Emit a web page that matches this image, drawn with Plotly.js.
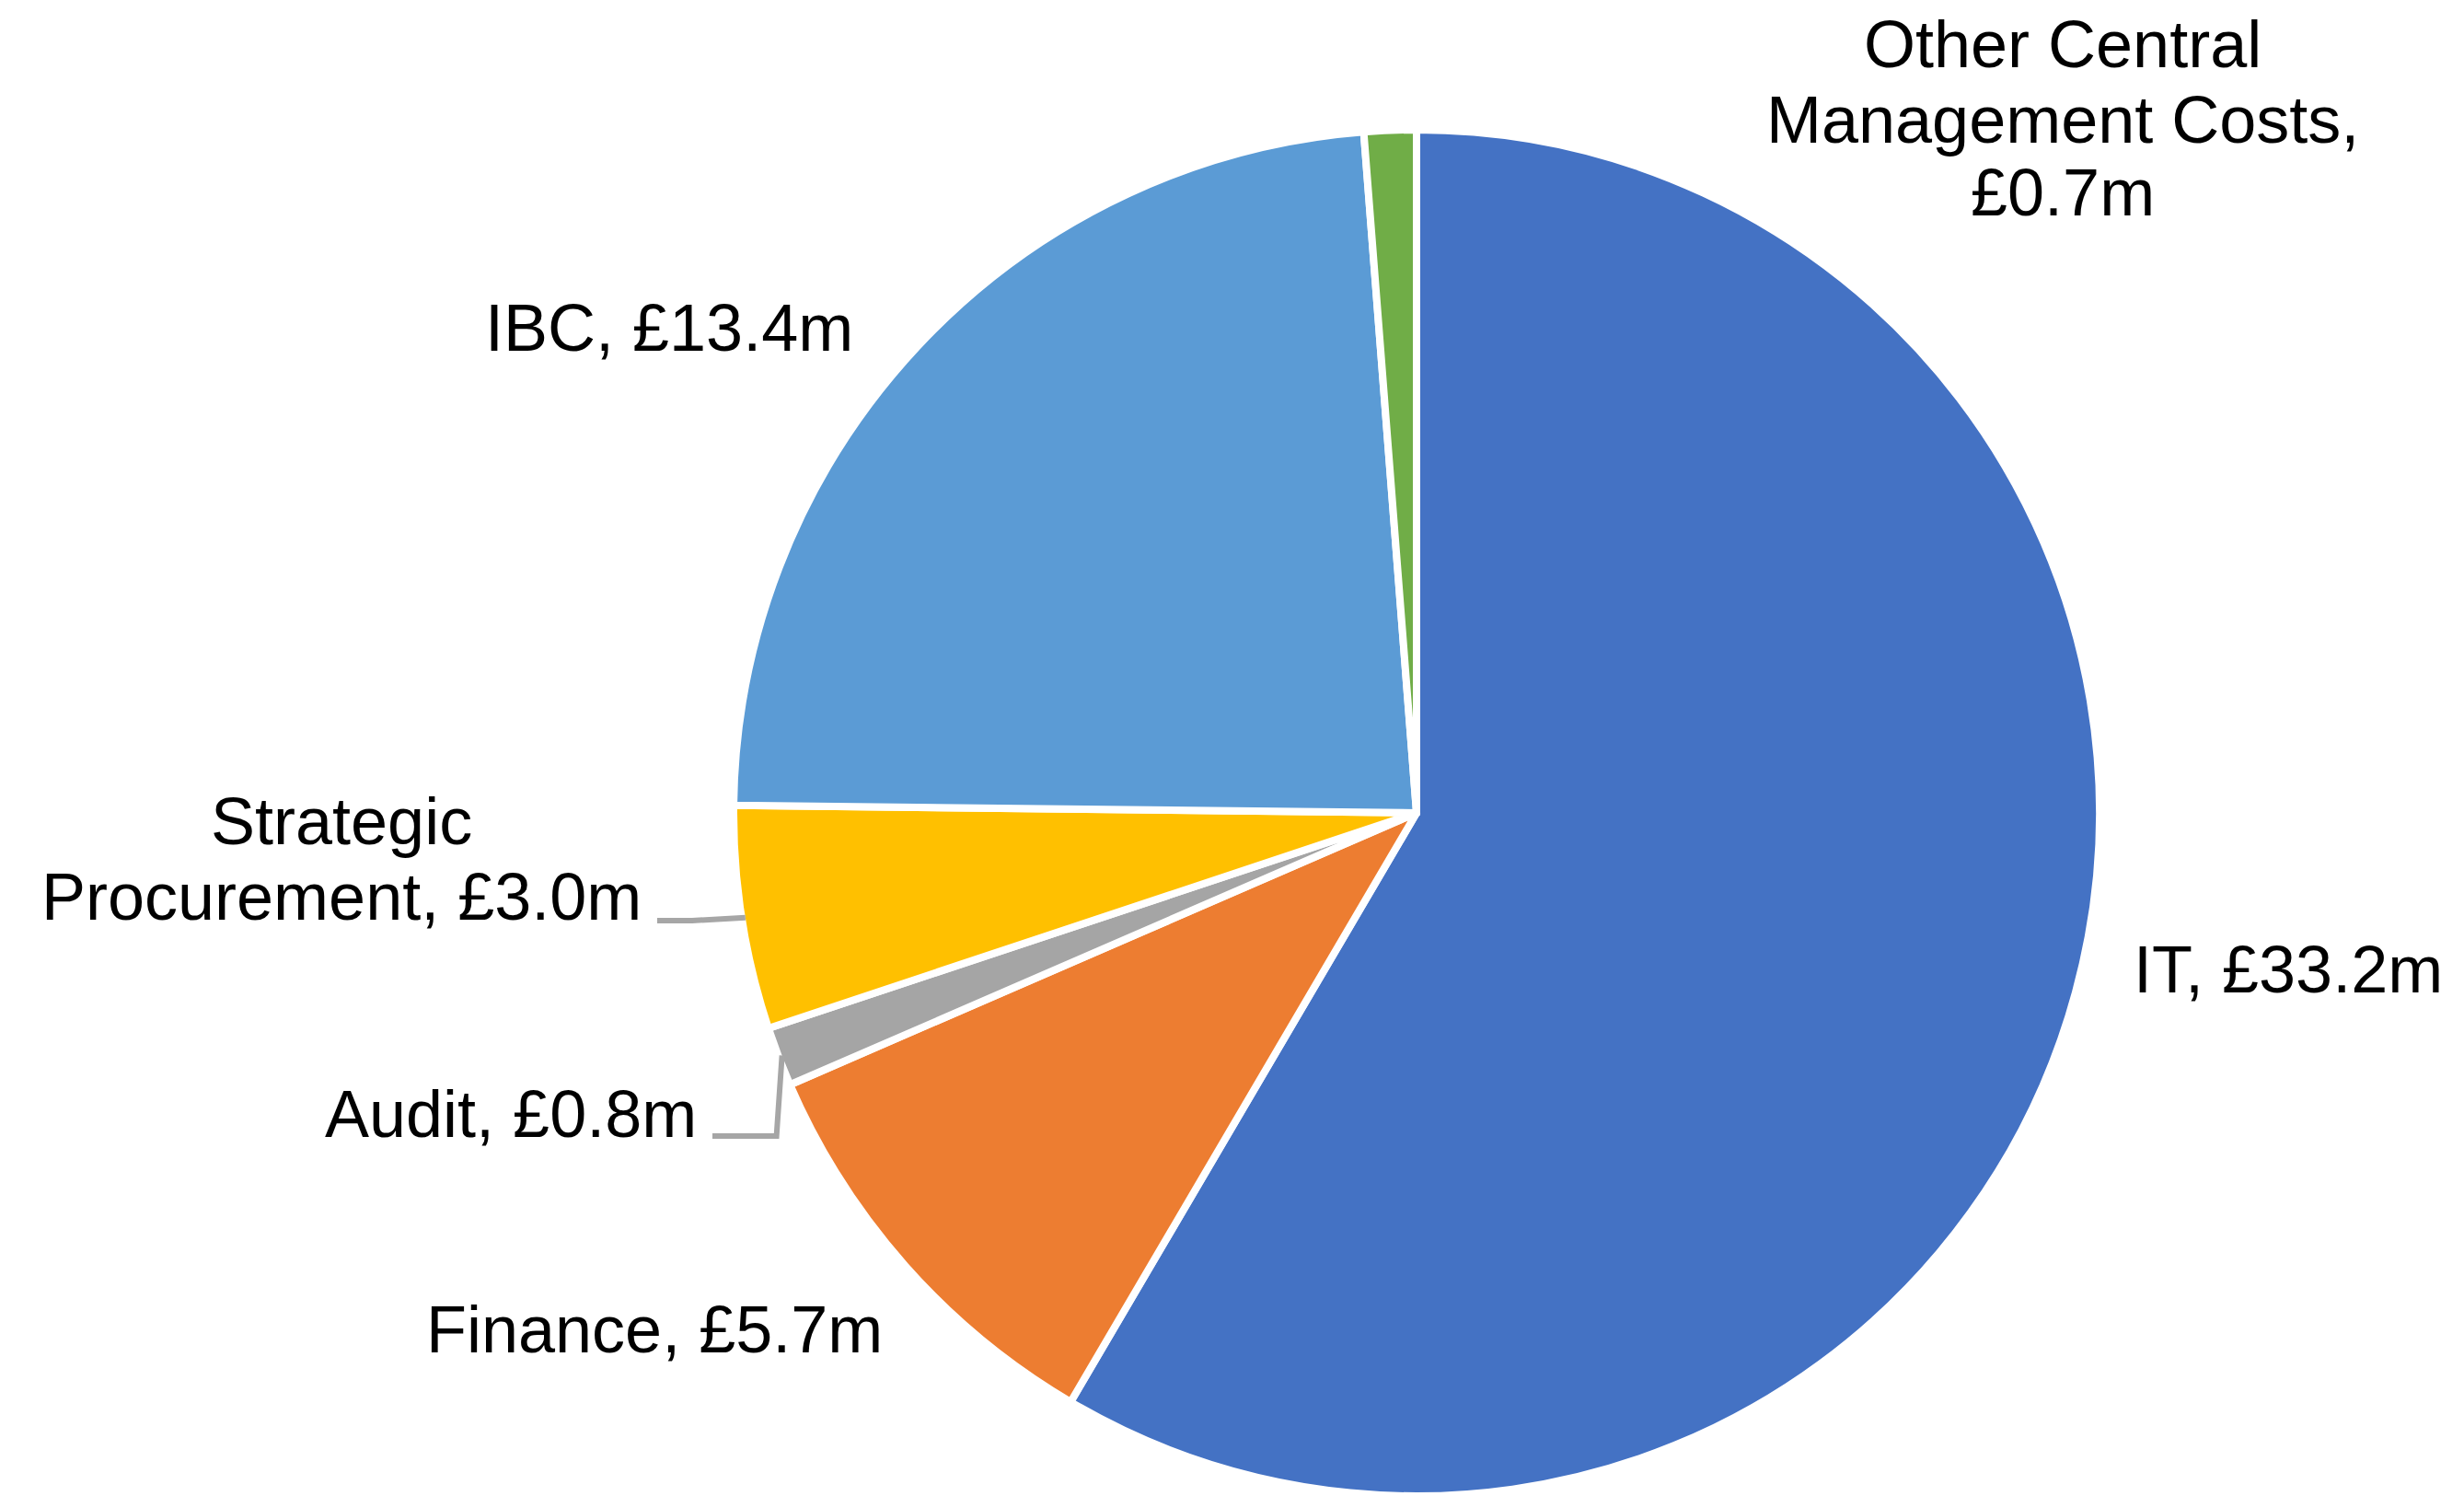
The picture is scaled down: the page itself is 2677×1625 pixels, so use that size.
<!DOCTYPE html>
<html>
<head>
<meta charset="utf-8">
<script src="https://cdn.plot.ly/plotly-3.0.1.min.js"></script>
<style>
  html, body { margin: 0; padding: 0; background: #ffffff; overflow: hidden; }
  #chart { width: 2677px; height: 1625px; }
</style>
</head>
<body>
<div id="chart"></div>
<script>
// ---- data ----
var categories = ["IT", "Finance", "Audit", "Strategic Procurement", "IBC", "Other Central Management Costs"];
var values = [33.2, 5.7, 0.8, 3.0, 13.4, 0.7];
var colors = ["#4472C4", "#ED7D31", "#A5A5A5", "#FFC000", "#5B9BD5", "#70AD47"];
// word indices after which a label line breaks
var wrapAfter = [[], [], [], [1], [], [2, 4]];

// ---- layout helpers (pixel positions of the label lines) ----
var W = 2677, H = 1625;
var R = 742, CX = 1539, CY = H - R;
function px(x) { return x / W; }
function py(y) { return 1 - y / H; }

var labelPos = [
  {x: 2486, ys: [1053]},
  {x: 711, ys: [1444]},
  {x: 555, ys: [1210]},
  {x: 371, ys: [892, 974]},
  {x: 727, ys: [356]},
  {x: 2241, ys: [48, 130, 209]}
];

function labelLines(i) {
  var words = (categories[i] + ", £" + values[i].toFixed(1) + "m").split(" ");
  var lines = [], cur = [];
  words.forEach(function (w, k) {
    cur.push(w);
    if (wrapAfter[i].indexOf(k + 1) >= 0) { lines.push(cur.join(" ")); cur = []; }
  });
  if (cur.length) lines.push(cur.join(" "));
  return lines;
}

var annotations = [];
categories.forEach(function (c, i) {
  var lines = labelLines(i);
  lines.forEach(function (t, j) {
    annotations.push({
      text: t, showarrow: false, xref: "paper", yref: "paper",
      x: px(labelPos[i].x), y: py(labelPos[i].ys[j]),
      xanchor: "center", yanchor: "middle",
      font: {family: "Liberation Sans, Arial, sans-serif", size: 72, color: "#000000"}
    });
  });
});

// leader lines for small slices, ending at the slice mid-angle on the pie edge
var total = values.reduce(function (a, b) { return a + b; }, 0);
function midPoint(i, rr) {
  var before = 0;
  for (var k = 0; k < i; k++) before += values[k];
  var ang = (before + values[i] / 2) / total * 2 * Math.PI;
  return [CX + rr * Math.sin(ang), CY - rr * Math.cos(ang)];
}
var spEnd = midPoint(3, R - 4);
var auEnd = midPoint(2, R - 4);
var shapes = [
  {type: "path", xref: "paper", yref: "paper",
   path: "M " + px(714) + "," + py(1000) + " L " + px(752) + "," + py(1000) + " L " + px(spEnd[0]) + "," + py(spEnd[1]),
   line: {color: "#A6A6A6", width: 6}},
  {type: "path", xref: "paper", yref: "paper",
   path: "M " + px(774) + "," + py(1234) + " L " + px(auEnd[0] - 6) + "," + py(1234) + " L " + px(auEnd[0]) + "," + py(auEnd[1]),
   line: {color: "#A6A6A6", width: 6}}
];

var trace = {
  type: "pie",
  labels: categories,
  values: values,
  sort: false,
  direction: "clockwise",
  rotation: 0,
  textinfo: "none",
  hoverinfo: "none",
  marker: {colors: colors, line: {color: "#ffffff", width: 8}},
  domain: {x: [px(CX - R), px(CX + R)], y: [0, 2 * R / H]}
};

var layout = {
  width: W, height: H,
  margin: {l: 0, r: 0, t: 0, b: 0},
  paper_bgcolor: "#ffffff",
  showlegend: false,
  annotations: annotations,
  shapes: shapes
};

Plotly.newPlot("chart", [trace], layout, {displayModeBar: false, staticPlot: true});
</script>
</body>
</html>
